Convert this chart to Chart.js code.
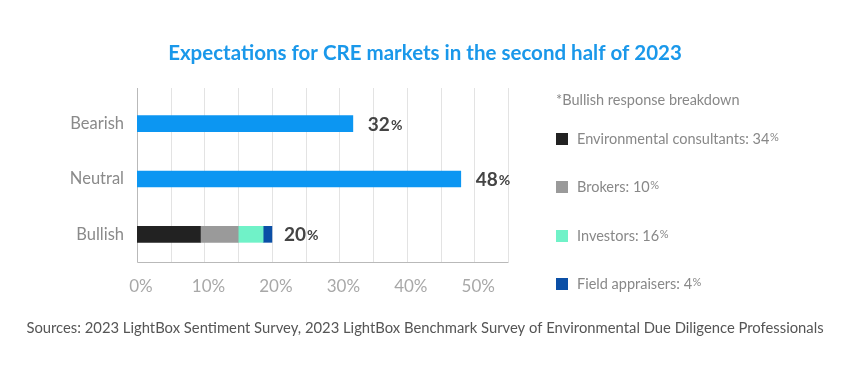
<!DOCTYPE html>
<html>
<head>
<meta charset="utf-8">
<script src="https://cdn.jsdelivr.net/npm/chart.js@4.4.0/dist/chart.umd.min.js"></script>
<style>
html,body{margin:0;padding:0;background:#fff;}
#wrap{width:850px;height:381px;position:relative;}
</style>
</head>
<body>
<div id="wrap"><canvas id="c" width="850" height="381"></canvas></div>
<script>
const TITLE = 'Expectations for CRE markets in the second half of 2023';
const SOURCE = 'Sources: 2023 LightBox Sentiment Survey, 2023 LightBox Benchmark Survey of Environmental Due Diligence Professionals';
const LEGEND_HEADER = '*Bullish response breakdown';

const categories = ['Bearish', 'Neutral', 'Bullish'];
const overallValues = [32, 48, null];
const consultantsValues = [null, null, 9.4];
const brokersValues = [null, null, 5.6];
const investorsValues = [null, null, 3.7];
const appraisersValues = [null, null, 1.3];
const totalLabels = [32, 48, 20];

const breakdownNames = ['Environmental consultants', 'Brokers', 'Investors', 'Field appraisers'];
const breakdownShares = [34, 10, 16, 4];

const xTickValues = [0, 10, 20, 30, 40, 50];

const FONT = 'Lato, "Open Sans", sans-serif';

const colors = {
  overall: '#0c96f2',
  consultants: '#222222',
  brokers: '#9a9a9a',
  investors: '#70f2c8',
  appraisers: '#0b4fa6'
};

const overlay = {
  id: 'overlay',
  beforeDatasetsDraw(chart) {
    const ctx = chart.ctx;
    const x = chart.scales.x;
    const area = chart.chartArea;
    const top = 88;
    ctx.save();
    ctx.lineWidth = 1;
    ctx.strokeStyle = '#e3e3e3';
    x.ticks.forEach(t => {
      if (t.value === 0) return;
      const px = Math.round(x.getPixelForValue(t.value)) + 0.5;
      ctx.beginPath();
      ctx.moveTo(px, top);
      ctx.lineTo(px, area.bottom);
      ctx.stroke();
    });
    ctx.strokeStyle = '#b9b9b9';
    const lx = Math.round(x.getPixelForValue(0)) + 0.5;
    ctx.beginPath();
    ctx.moveTo(lx, top);
    ctx.lineTo(lx, area.bottom + 0.5);
    ctx.lineTo(Math.round(x.getPixelForValue(x.max)) + 0.5, area.bottom + 0.5);
    ctx.stroke();
    ctx.restore();
  },
  afterDraw(chart) {
    const ctx = chart.ctx;
    const x = chart.scales.x, y = chart.scales.y;
    ctx.save();
    // title
    ctx.fillStyle = '#1a98ea';
    ctx.font = 'bold 20.5px ' + FONT;
    ctx.textAlign = 'center';
    ctx.textBaseline = 'middle';
    ctx.fillText(TITLE, 425, 53);
    // source
    ctx.fillStyle = '#555555';
    ctx.font = '14.8px ' + FONT;
    ctx.fillText(SOURCE, 425, 328);
    // value labels
    ctx.textAlign = 'left';
    ctx.textBaseline = 'alphabetic';
    categories.forEach((c, i) => {
      let sum = 0;
      chart.data.datasets.forEach(ds => { if (ds.data[i] != null) sum += ds.data[i]; });
      const px = x.getPixelForValue(sum) + (i === 2 ? 12 : 15);
      const py = y.getPixelForValue(i) + 7;
      ctx.fillStyle = '#444444';
      ctx.font = 'bold 19px ' + FONT;
      const s = String(totalLabels[i]);
      ctx.fillText(s, px, py);
      const w = ctx.measureText(s).width;
      ctx.font = 'bold 14px ' + FONT;
      ctx.fillText('%', px + w + 1, py - 1);
    });
    // legend
    ctx.fillStyle = '#888888';
    ctx.font = '14.5px ' + FONT;
    ctx.textBaseline = 'middle';
    ctx.fillText(LEGEND_HEADER, 556, 100);
    const legendY = [139, 187, 236, 284];
    const dsList = chart.data.datasets.slice(1);
    breakdownNames.forEach((n, i) => {
      const cy = legendY[i];
      ctx.fillStyle = dsList[i].backgroundColor;
      ctx.fillRect(556, cy - 6, 12, 12);
      ctx.fillStyle = '#888888';
      ctx.font = '14.5px ' + FONT;
      const s = n + ': ' + breakdownShares[i];
      ctx.fillText(s, 577, cy);
      const w = ctx.measureText(s).width;
      ctx.font = '11px ' + FONT;
      ctx.fillText('%', 577 + w + 0.5, cy - 2);
    });
    ctx.restore();
  }
};

new Chart(document.getElementById('c'), {
  type: 'bar',
  data: {
    labels: categories,
    datasets: [
      { label: 'All respondents', data: overallValues, backgroundColor: colors.overall },
      { label: breakdownNames[0], data: consultantsValues, backgroundColor: colors.consultants },
      { label: breakdownNames[1], data: brokersValues, backgroundColor: colors.brokers },
      { label: breakdownNames[2], data: investorsValues, backgroundColor: colors.investors },
      { label: breakdownNames[3], data: appraisersValues, backgroundColor: colors.appraisers }
    ]
  },
  plugins: [overlay],
  options: {
    indexAxis: 'y',
    responsive: false,
    animation: false,
    devicePixelRatio: 1,
    barThickness: 16,
    layout: { padding: { top: 96, right: 342, bottom: 79, left: 0 } },
    scales: {
      x: {
        stacked: true,
        min: 0, max: 55,
        grid: { display: false, drawTicks: false },
        border: { display: false },
        afterFit(s) { s.height = 40; },
        ticks: {
          stepSize: 5,
          autoSkip: false,
          maxRotation: 0,
          padding: 14,
          labelOffset: 4,
          color: '#a8a8a8',
          font: { family: FONT, size: 17 },
          callback: v => xTickValues.includes(v) ? v + '%' : ''
        }
      },
      y: {
        stacked: true,
        grid: { display: false, drawTicks: false },
        border: { display: false },
        afterFit(s) { s.width = 137; },
        ticks: {
          padding: 13,
          color: '#8a8a8a',
          font: { family: FONT, size: 16.5 }
        }
      }
    },
    plugins: {
      legend: { display: false },
      tooltip: { enabled: false },
      title: { display: false }
    }
  }
});
</script>
</body>
</html>
